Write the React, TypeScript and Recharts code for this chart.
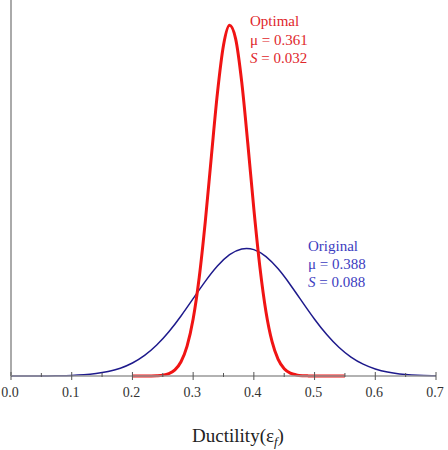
import React from "react";
import { LineChart, Line, XAxis, YAxis } from "recharts";

// Optimal distribution (mu = 0.361, S = 0.032)
const optimalX = [0.2, 0.21, 0.22, 0.23, 0.24, 0.25, 0.26, 0.27, 0.28, 0.29, 0.3, 0.31, 0.32, 0.33, 0.34, 0.35, 0.36, 0.37, 0.38, 0.39, 0.4, 0.41, 0.42, 0.43, 0.44, 0.45, 0.46, 0.47, 0.48, 0.49, 0.5, 0.51, 0.52, 0.53, 0.54, 0.55];
const optimalY = [0, 0.0002, 0.0008, 0.003, 0.01, 0.03, 0.086, 0.219, 0.507, 1.063, 2.026, 3.501, 5.487, 7.798, 10.05, 11.75, 12.46, 11.98, 10.45, 8.27, 5.93, 3.861, 2.278, 1.219, 0.592, 0.261, 0.104, 0.038, 0.012, 0.004, 0.001, 0, 0, 0, 0, 0];

// Original distribution (mu = 0.388, S = 0.088)
const originalX = [0, 0.02, 0.04, 0.06, 0.08, 0.1, 0.12, 0.14, 0.16, 0.18, 0.2, 0.22, 0.24, 0.26, 0.28, 0.3, 0.32, 0.34, 0.36, 0.38, 0.4, 0.42, 0.44, 0.46, 0.48, 0.5, 0.52, 0.54, 0.56, 0.58, 0.6, 0.62, 0.64, 0.66, 0.68, 0.7];
const originalY = [0.0003, 0.0007, 0.0018, 0.0044, 0.0099, 0.0214, 0.0439, 0.0855, 0.158, 0.278, 0.463, 0.733, 1.103, 1.574, 2.134, 2.75, 3.363, 3.906, 4.31, 4.515, 4.491, 4.243, 3.807, 3.244, 2.625, 2.017, 1.472, 1.02, 0.671, 0.42, 0.249, 0.14, 0.075, 0.038, 0.018, 0.008];

const xTicks = [0, 0.05, 0.1, 0.15, 0.2, 0.25, 0.3, 0.35, 0.4, 0.45, 0.5, 0.55, 0.6, 0.65, 0.7];
const majorLabels = ["0.0", "0.1", "0.2", "0.3", "0.4", "0.5", "0.6", "0.7"];

const optimalData = optimalX.map((x, i) => ({ x, y: optimalY[i] }));
const originalData = originalX.map((x, i) => ({ x, y: originalY[i] }));

const SERIF = "'Liberation Serif', 'Times New Roman', serif";

const Tick = (props: any) => {
  const { x, y, index } = props;
  const major = index % 2 === 0;
  const label = major ? majorLabels[index / 2] : null;
  return (
    <g>
      <line x1={x} x2={x} y1={y - (major ? 4 : 3)} y2={y + (major ? 4 : 1)} stroke="#555" strokeWidth={1} />
      {label !== null && (
        <text x={x - 1} y={y + 21} textAnchor="middle" fontFamily={SERIF} fontSize={14} fill="#333">
          {label}
        </text>
      )}
    </g>
  );
};

export default function App() {
  return (
    <div style={{ position: "absolute", left: 0, top: 0, width: 448, height: 450, background: "#fff" }}>
      <LineChart width={448} height={450} margin={{ top: 0, right: 12, bottom: 0, left: 10 }}>
        <XAxis
          dataKey="x"
          type="number"
          domain={[0, 0.7]}
          ticks={xTicks}
          interval={0}
          tickSize={0}
          tickMargin={0}
          tick={<Tick />}
          axisLine={{ stroke: "#999", strokeWidth: 1.5 }}
          allowDuplicatedCategory={false}
          height={74}
        />
        <YAxis
          type="number"
          domain={[0, 13.36]}
          width={1}
          tick={false}
          tickLine={false}
          axisLine={{ stroke: "#aaa", strokeWidth: 2 }}
        />
        <Line data={originalData} dataKey="y" type="natural" stroke="#1e1a8c" strokeWidth={1.5} dot={false} isAnimationActive={false} />
        <Line data={optimalData} dataKey="y" type="monotone" stroke="#f01414" strokeWidth={3} dot={false} isAnimationActive={false} />
      </LineChart>
      <svg width={448} height={450} style={{ position: "absolute", left: 0, top: 0, pointerEvents: "none" }}>
        <g fontFamily={SERIF} fontSize={15} fill="#e0262b">
          <text x={250} y={26}>Optimal</text>
          <text x={250} y={44.5}>μ = 0.361</text>
          <text x={250} y={63}><tspan fontStyle="italic">S</tspan> = 0.032</text>
        </g>
        <g fontFamily={SERIF} fontSize={15} fill="#3c3cc0">
          <text x={308} y={251}>Original</text>
          <text x={308} y={269}>μ = 0.388</text>
          <text x={308} y={287}><tspan fontStyle="italic">S</tspan> = 0.088</text>
        </g>
        <text x={238} y={442} textAnchor="middle" fontFamily={SERIF} fontSize={19} fill="#222">
          Ductility(ε<tspan fontStyle="italic" fontSize={13} dy={4}>f</tspan><tspan dy={-4}>)</tspan>
        </text>
      </svg>
    </div>
  );
}
